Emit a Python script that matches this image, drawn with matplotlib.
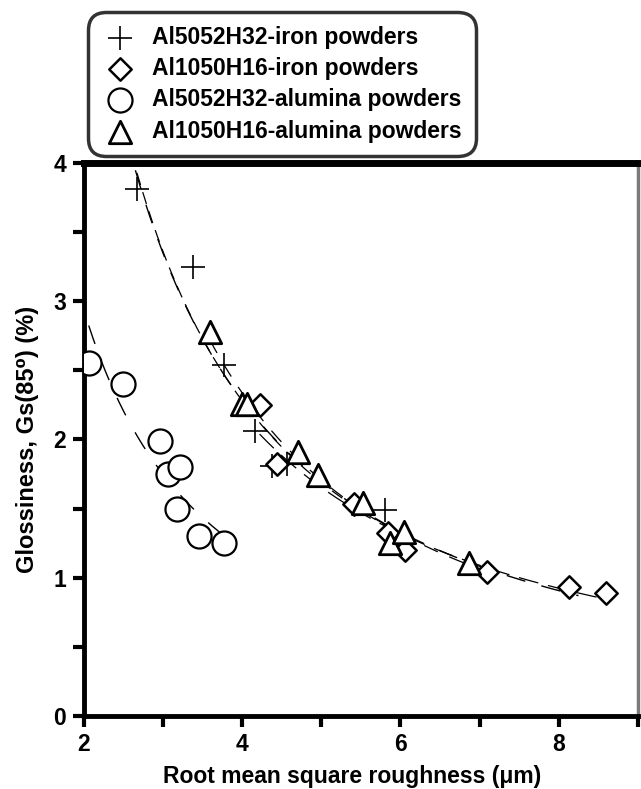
import numpy as np
import matplotlib
matplotlib.use("Agg")
import matplotlib.pyplot as plt
from matplotlib.ticker import MultipleLocator

plt.rcParams['font.family'] = ['Liberation Sans', 'DejaVu Sans']
plt.rcParams['font.weight'] = 'bold'

# Data
fe5052_x = [2.67, 3.38, 3.77, 4.16, 4.38, 4.57, 5.81]
fe5052_y = [3.81, 3.25, 2.54, 2.06, 1.81, 1.82, 1.49]

fe1050_x = [4.22, 4.44, 5.41, 5.84, 6.06, 7.09, 8.13, 8.60]
fe1050_y = [2.25, 1.82, 1.53, 1.32, 1.20, 1.04, 0.93, 0.89]

al5052_x = [2.06, 2.49, 2.96, 3.06, 3.21, 3.18, 3.46, 3.77]
al5052_y = [2.55, 2.40, 1.99, 1.75, 1.80, 1.50, 1.30, 1.25]

al1050_x = [3.59, 4.00, 4.06, 4.71, 4.96, 5.53, 5.87, 6.05, 6.87]
al1050_y = [2.78, 2.26, 2.26, 1.91, 1.74, 1.54, 1.25, 1.33, 1.11]

labels = ["Al5052H32-iron powders", "Al1050H16-iron powders",
          "Al5052H32-alumina powders", "Al1050H16-alumina powders"]


def power_fit(x, y):
    b, a = np.polyfit(np.log(x), np.log(y), 1)
    return lambda t: np.exp(a) * t ** b


fig = plt.figure(figsize=(6.41, 7.89), dpi=100)
ax = fig.add_axes([0.131, 0.0925, 0.864, 0.701])

# fit curves
up_x = np.array(fe5052_x + fe1050_x + al1050_x)
up_y = np.array(fe5052_y + fe1050_y + al1050_y)
f_up = power_fit(up_x, up_y)
t = np.linspace(2.65, 8.25, 300)
ax.plot(t, f_up(t), color='black', lw=1.0, dashes=(14, 12), zorder=2)

for xs, ys, d in [(fe5052_x, fe5052_y, (10, 6)),
                  (fe1050_x, fe1050_y, (16, 8)),
                  (al1050_x, al1050_y, (12, 10))]:
    f = power_fit(np.array(xs), np.array(ys))
    tt = np.linspace(min(xs), max(xs), 200)
    ax.plot(tt, f(tt), color='black', lw=0.9, dashes=d, zorder=2)

f_lo = power_fit(np.array(al5052_x), np.array(al5052_y))
t2 = np.linspace(2.06, 3.75, 200)
ax.plot(t2, f_lo(t2), color='black', lw=1.0, dashes=(14, 14), zorder=2)

h1 = ax.scatter(fe5052_x, fe5052_y, marker='+', s=300, c='black', linewidths=1.2, zorder=3)
h2 = ax.scatter(fe1050_x, fe1050_y, marker='D', s=130, facecolors='white', edgecolors='black', linewidths=1.8, zorder=3)
h3 = ax.scatter(al5052_x, al5052_y, marker='o', s=300, facecolors='white', edgecolors='black', linewidths=1.6, zorder=3)
h4 = ax.scatter(al1050_x, al1050_y, marker='^', s=260, facecolors='white', edgecolors='black', linewidths=2.0, zorder=3)

ax.set_xlim(2, 9)
ax.set_ylim(0, 4)
ax.xaxis.set_major_locator(MultipleLocator(2))
ax.xaxis.set_minor_locator(MultipleLocator(1))
ax.yaxis.set_major_locator(MultipleLocator(1))
ax.yaxis.set_minor_locator(MultipleLocator(0.5))
ax.tick_params(which='both', direction='out', width=3, length=8, labelsize=16.5)
ax.tick_params(axis='x', which='major', pad=4)
ax.tick_params(axis='y', which='major', pad=5)
for lab in ax.get_xticklabels() + ax.get_yticklabels():
    lab.set_fontweight('bold')

for s in ['left', 'bottom']:
    ax.spines[s].set_linewidth(3.5)
ax.spines['top'].set_linewidth(5)
ax.spines['right'].set_linewidth(2.5)
ax.spines['right'].set_color('#7a7a7a')

ax.set_xlabel("Root mean square roughness (\u03bcm)", fontsize=16.5, fontweight='bold')
ax.xaxis.set_label_coords(0.484, -0.088)
ax.set_ylabel("Glossiness, Gs(85\u2070) (%)", fontsize=17, fontweight='bold', labelpad=10)

leg = fig.legend([h1, h2, h3, h4], labels, loc='upper left',
                 bbox_to_anchor=(95 / 641, 1 - 19 / 789), bbox_transform=fig.transFigure,
                 fancybox=True, frameon=True, edgecolor='black',
                 prop={'weight': 'bold', 'size': 16.5}, handletextpad=0.6,
                 labelspacing=0.36, borderpad=0.3, borderaxespad=0.0,
                 handlelength=1.6, scatterpoints=1)
leg.get_frame().set_linewidth(2.5)
leg.get_frame().set_boxstyle('round', pad=0.3, rounding_size=0.8)

fig.savefig("out.png", dpi=100)
